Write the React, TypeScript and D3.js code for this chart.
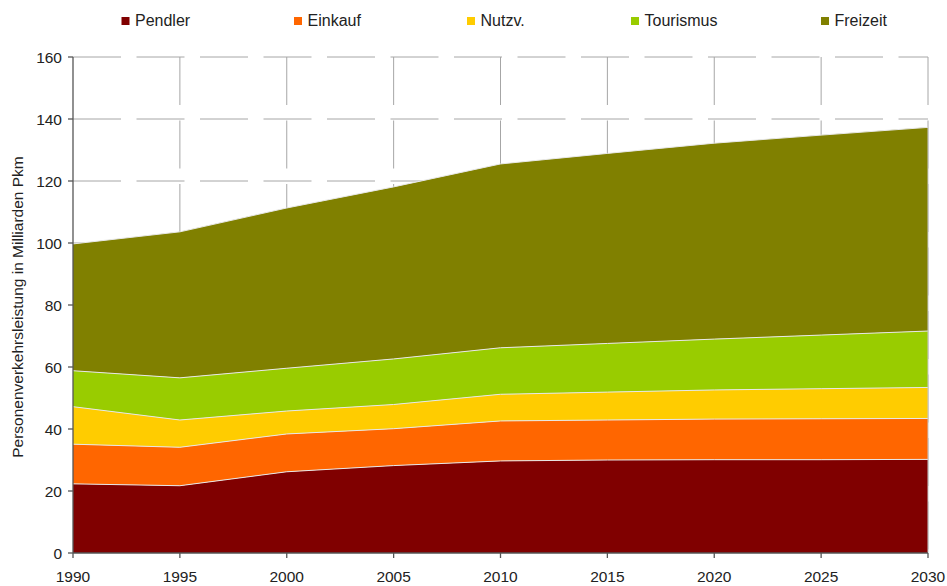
import React from "react";
import * as d3 from "d3";

const years = [1990, 1995, 2000, 2005, 2010, 2015, 2020, 2025, 2030];
const seriesNames = ["Pendler", "Einkauf", "Nutzv.", "Tourismus", "Freizeit"];
const pendler = [22.3, 21.7, 26.2, 28.2, 29.7, 30.0, 30.1, 30.1, 30.2];
const einkauf = [12.8, 12.4, 12.2, 11.9, 12.9, 12.9, 13.1, 13.2, 13.2];
const nutzv = [12.1, 8.8, 7.4, 7.8, 8.6, 9.0, 9.4, 9.7, 10.0];
const tourismus = [11.6, 13.6, 13.8, 14.7, 15.0, 15.7, 16.4, 17.3, 18.2];
const freizeit = [40.9, 47.1, 51.7, 55.5, 59.3, 61.3, 63.2, 64.5, 65.7];
const yTicks = [0, 20, 40, 60, 80, 100, 120, 140, 160];
const colors = ["#800000", "#FF6600", "#FFCC00", "#99CC00", "#808000"];
const yTitle = "Personenverkehrsleistung in Milliarden Pkm";

const W = 947;
const H = 586;
const left = 73;
const right = 928;
const top = 57;
const bottom = 553;
const font = "'Liberation Sans', Arial, sans-serif";

export default function App() {
  const x = d3.scaleLinear().domain([1990, 2030]).range([left, right]);
  const y = d3.scaleLinear().domain([0, 160]).range([bottom, top]);
  const seriesData = [pendler, einkauf, nutzv, tourismus, freizeit];
  const rows = years.map((yr, i) => {
    const r: Record<string, number> = { year: yr };
    seriesNames.forEach((n, k) => (r[n] = seriesData[k][i]));
    return r;
  });
  const stack = d3.stack<Record<string, number>>().keys(seriesNames)(rows);
  const area = d3
    .area<any>()
    .x((d) => x(d.data.year))
    .y0((d) => y(d[0]))
    .y1((d) => y(d[1]));
  const topLine = d3
    .line<any>()
    .x((d) => x(d.data.year))
    .y((d) => y(d[1]));

  const legendX = [121.5, 294, 467, 631, 821];
  const dash = "48,15.5";
  const grid = "#a6a6a6";
  const axisCol = "#555";

  return (
    <svg
      width={W}
      height={H}
      style={{ position: "absolute", left: 0, top: 0, background: "#fff" }}
      fontFamily={font}
    >
      {/* gridlines */}
      {yTicks
        .filter((t) => t > 0)
        .map((t) => (
          <line
            key={"h" + t}
            x1={left}
            x2={right}
            y1={y(t)}
            y2={y(t)}
            stroke={grid}
            strokeWidth={1}
            strokeDasharray={dash}
          />
        ))}
      {years
        .filter((yr) => yr > 1990)
        .map((yr) => (
          <line
            key={"v" + yr}
            x1={x(yr)}
            x2={x(yr)}
            y1={top}
            y2={bottom}
            stroke={grid}
            strokeWidth={1}
            strokeDasharray={dash}
          />
        ))}
      {/* areas */}
      {stack.map((s, k) => (
        <path key={"a" + k} d={area(s) || ""} fill={colors[k]} />
      ))}
      {stack.map((s, k) => (
        <path
          key={"l" + k}
          d={topLine(s) || ""}
          fill="none"
          stroke="#e8e8e8"
          strokeWidth={1}
        />
      ))}
      <line x1={right} x2={right} y1={y(stack[4][8][1])} y2={bottom} stroke="#c8c8c8" strokeWidth={1} />
      {/* y axis */}
      <line x1={left} x2={left} y1={top} y2={bottom} stroke={axisCol} strokeWidth={1.3} />
      {yTicks.map((t) => (
        <g key={"yt" + t}>
          <line x1={left - 5} x2={left} y1={y(t)} y2={y(t)} stroke={axisCol} strokeWidth={1.3} />
          <text
            x={left - 11}
            y={y(t)}
            dy="0.36em"
            textAnchor="end"
            fontSize={15.5}
            fill="#222"
          >
            {t}
          </text>
        </g>
      ))}
      {/* x axis */}
      <line x1={left} x2={right} y1={bottom} y2={bottom} stroke={axisCol} strokeWidth={1.3} />
      {years.map((yr) => (
        <g key={"xt" + yr}>
          <line x1={x(yr)} x2={x(yr)} y1={bottom} y2={bottom + 5} stroke={axisCol} strokeWidth={1.3} />
          <text x={x(yr)} y={bottom + 29} textAnchor="middle" fontSize={15.5} fill="#222">
            {yr}
          </text>
        </g>
      ))}
      {/* y title */}
      <text
        transform={`translate(23,307) rotate(-90)`}
        textAnchor="middle"
        fontSize={15.5}
        fill="#222"
      >
        {yTitle}
      </text>
      {/* legend */}
      {seriesNames.map((n, k) => (
        <g key={"lg" + k}>
          <rect x={legendX[k]} y={17} width={8} height={8} fill={colors[k]} />
          <text x={legendX[k] + 13.5} y={26} fontSize={16} fill="#222">
            {n}
          </text>
        </g>
      ))}
    </svg>
  );
}
